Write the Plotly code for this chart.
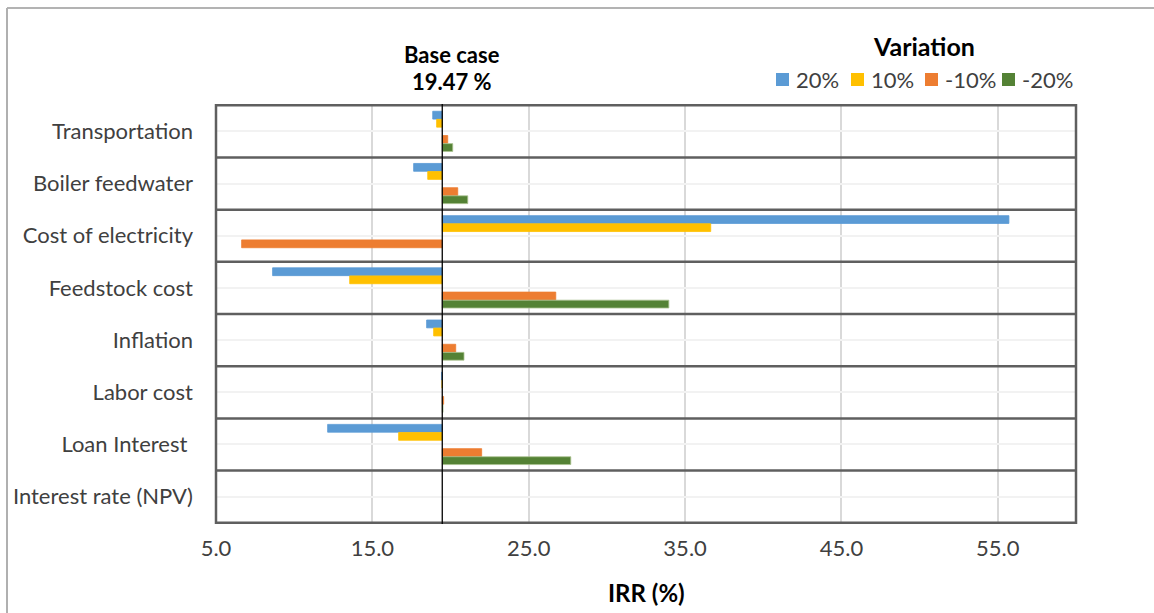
import plotly.graph_objects as go

# Sensitivity of IRR (%) to +/-10% and +/-20% changes in each input
BASE_IRR = 19.47

categories = [
    "Transportation",
    "Boiler feedwater",
    "Cost of electricity",
    "Feedstock cost",
    "Inflation",
    "Labor cost",
    "Loan Interest\u00a0",
    "Interest rate (NPV)",
]

variations = ["20%", "10%", "-10%", "-20%"]

irr_plus20 = [18.86, 17.64, 55.71, 8.62, 18.47, 19.42, 12.14, None]
irr_plus10 = [19.11, 18.54, 36.64, 13.55, 18.92, 19.45, 16.68, None]
irr_minus10 = [19.82, 20.46, 6.64, 26.73, 20.33, 19.56, 21.99, None]
irr_minus20 = [20.14, 21.10, None, 33.96, 20.86, 19.52, 27.69, None]

series_values = [irr_plus20, irr_plus10, irr_minus10, irr_minus20]
colors = ["#5B9BD5", "#FFC000", "#ED7D31", "#548235"]
outline = ["#5B9BD5", "#FFC000", "#ED7D31", "#A9C18F"]

x_ticks = [5, 15, 25, 35, 45, 55]

BAR_W = 0.15
centers = [-0.31, -0.155, 0.155, 0.31]

FONT = "Lato"
TXT = "#404040"

# plot area in pixels, used to place the paper-referenced items
L, R, T, B = 216, 1076, 104, 524
W_PX, H_PX = R - L, B - T


def px(x):
    return (x - L) / W_PX


def py(y):
    return (B - y) / H_PX


fig = go.Figure()

for name, vals, col, lc, c in zip(variations, series_values, colors, outline, centers):
    lengths = [None if v is None else v - BASE_IRR for v in vals]
    fig.add_trace(go.Bar(
        y=categories,
        x=lengths,
        base=BASE_IRR,
        orientation="h",
        name=name,
        width=BAR_W,
        offset=c - BAR_W / 2,
        showlegend=False,
        marker=dict(color=col, line=dict(color=lc, width=0.8)),
    ))

# category separators and frame
n = len(categories)
for k in range(n + 1):
    fig.add_shape(type="line", xref="paper", yref="y",
                  x0=0, x1=1, y0=k - 0.5, y1=k - 0.5,
                  line=dict(color="#5f5f5f", width=2.5), layer="above")
for xp in (0, 1):
    fig.add_shape(type="line", xref="paper", yref="paper",
                  x0=xp, x1=xp, y0=0, y1=1,
                  line=dict(color="#5f5f5f", width=2.5), layer="above")

# base case reference line
fig.add_shape(type="line", xref="x", yref="paper",
              x0=BASE_IRR, x1=BASE_IRR, y0=0, y1=1,
              line=dict(color="#000000", width=1.3), layer="above")

# outer chart border (top and left)
fig.add_shape(type="line", xref="paper", yref="paper",
              x0=px(7), x1=px(1160), y0=py(8), y1=py(8),
              line=dict(color="#9a9a9a", width=1.5))
fig.add_shape(type="line", xref="paper", yref="paper",
              x0=px(7), x1=px(7), y0=py(8), y1=py(620),
              line=dict(color="#b0b0b0", width=2))

# titles
fig.add_annotation(text="<b>Base case</b>", xref="paper", yref="paper",
                   x=px(451.5), y=py(55), xanchor="center", yanchor="middle",
                   showarrow=False, font=dict(family=FONT, size=22, color="#000000"))
fig.add_annotation(text=f"<b>{BASE_IRR:.2f} %</b>", xref="paper", yref="paper",
                   x=px(451.5), y=py(82), xanchor="center", yanchor="middle",
                   showarrow=False, font=dict(family=FONT, size=22, color="#000000"))
fig.add_annotation(text="<b>IRR (%)</b>", xref="paper", yref="paper",
                   x=px(646), y=py(592), xanchor="center", yanchor="middle",
                   showarrow=False, font=dict(family=FONT, size=24, color="#000000"))

# legend: title, colour keys and labels
fig.add_annotation(text="<b>Variation</b>", xref="paper", yref="paper",
                   x=px(924), y=py(46), xanchor="center", yanchor="middle",
                   showarrow=False, font=dict(family=FONT, size=25, color="#000000"))
key_left = [776, 851, 925, 1002]
for name, col, kx in zip(variations, colors, key_left):
    fig.add_shape(type="rect", xref="paper", yref="paper",
                  x0=px(kx), x1=px(kx + 13), y0=py(86), y1=py(73),
                  fillcolor=col, line=dict(width=0))
    fig.add_annotation(text=name, xref="paper", yref="paper",
                       x=px(kx + 18), y=py(79.5), xanchor="left", yanchor="middle",
                       showarrow=False, font=dict(family=FONT, size=22, color=TXT))

fig.update_layout(
    width=1154, height=613,
    margin=dict(l=L, r=1154 - R, t=T, b=613 - B),
    paper_bgcolor="white", plot_bgcolor="white",
    barmode="overlay",
    font=dict(family=FONT, size=22, color=TXT),
    showlegend=False,
    xaxis=dict(range=[5, 60], tickvals=x_ticks,
               ticktext=[f"{t:.1f}" for t in x_ticks],
               showgrid=True, gridcolor="#d9d9d9", gridwidth=2,
               zeroline=False, showline=False, ticks="",
               ticklabelstandoff=9,
               tickfont=dict(family=FONT, size=22, color=TXT)),
    yaxis=dict(type="category", categoryorder="array", categoryarray=categories,
               autorange="reversed", showgrid=True, gridcolor="#f2f2f2", gridwidth=2,
               zeroline=False, showline=False, ticks="",
               ticklabelstandoff=22,
               tickfont=dict(family=FONT, size=22, color=TXT)),
)

fig.write_html("out.html")
